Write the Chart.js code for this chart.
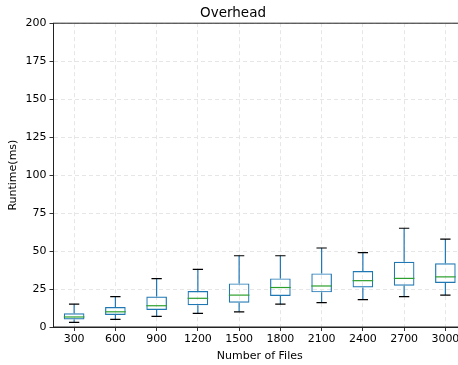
<!DOCTYPE html>
<html>
<head>
<meta charset="utf-8">
<script src="https://cdn.jsdelivr.net/npm/chart.js@4"></script>
<style>
html,body{margin:0;padding:0;background:#fff;overflow:hidden;width:458px;height:365px;}
#wrap{position:absolute;left:0;top:0;width:468px;height:365px;}
</style>
</head>
<body>
<div id="wrap"><canvas id="c"></canvas></div>
<script>
const categories = ['300','600','900','1200','1500','1800','2100','2400','2700','3000'];
const whiskerLow  = [3, 5, 7, 9, 10, 15, 16, 18, 20, 21];
const q1          = [5, 7.9, 11.2, 14.3, 16, 20.4, 22.8, 26, 27.2, 29];
const median      = [6.6, 10, 14, 18.9, 21, 26, 27, 30.5, 32, 33];
const q3          = [9, 13.2, 20, 23.7, 28.7, 32, 35.3, 36.8, 43, 41.9];
const whiskerHigh = [15, 20, 31.8, 38, 46.9, 46.9, 52, 48.9, 65, 57.9];
const yTicks = [0, 25, 50, 75, 100, 125, 150, 175, 200];

const BLUE = '#1f77b4', GREEN = '#2ca02c';
const FONT = "'DejaVu Sans', sans-serif";

const boxPlugin = {
  id: 'boxExtras',
  afterDatasetsDraw(chart) {
    const {ctx, chartArea, scales: {x, y}} = chart;
    const meta = chart.getDatasetMeta(0);
    ctx.save();
    ctx.lineWidth = 1.2;
    meta.data.forEach((bar, i) => {
      const cx = x.getPixelForValue(i);
      const half = bar.width / 2;
      const capHalf = half / 2;
      const yLo = y.getPixelForValue(whiskerLow[i]);
      const yQ1 = y.getPixelForValue(q1[i]);
      const yQ3 = y.getPixelForValue(q3[i]);
      const yHi = y.getPixelForValue(whiskerHigh[i]);
      const yMed = y.getPixelForValue(median[i]);
      ctx.strokeStyle = BLUE;
      ctx.beginPath();
      ctx.moveTo(cx, yQ1); ctx.lineTo(cx, yLo);
      ctx.moveTo(cx, yQ3); ctx.lineTo(cx, yHi);
      ctx.stroke();
      ctx.strokeStyle = '#000';
      ctx.beginPath();
      ctx.moveTo(cx - capHalf, yLo); ctx.lineTo(cx + capHalf, yLo);
      ctx.moveTo(cx - capHalf, yHi); ctx.lineTo(cx + capHalf, yHi);
      ctx.stroke();
      ctx.strokeStyle = GREEN;
      ctx.beginPath();
      ctx.moveTo(cx - half, yMed); ctx.lineTo(cx + half, yMed);
      ctx.stroke();
    });
    ctx.strokeStyle = '#222';
    ctx.lineWidth = 1;
    ctx.strokeRect(chartArea.left, chartArea.top, chartArea.right - chartArea.left, chartArea.bottom - chartArea.top);
    ctx.restore();
  }
};

new Chart(document.getElementById('c'), {
  type: 'bar',
  data: {
    labels: categories,
    datasets: [{
      data: q1.map((v, i) => [v, q3[i]]),
      backgroundColor: 'rgba(0,0,0,0)',
      borderColor: BLUE,
      borderWidth: 1.2,
      borderSkipped: false,
      barPercentage: 0.5,
      categoryPercentage: 1.0
    }]
  },
  options: {
    responsive: true,
    maintainAspectRatio: false,
    devicePixelRatio: 1,
    animation: false,
    layout: {padding: {left: 0, right: 2, top: 0, bottom: 0}},
    plugins: {
      legend: {display: false},
      tooltip: {enabled: false},
      title: {
        display: true, text: 'Overhead', color: '#000',
        font: {family: FONT, size: 13.5, weight: 'normal'},
        padding: {top: 5, bottom: 2}
      }
    },
    scales: {
      x: {
        offset: true,
        grid: {offset: false, color: '#e6e6e6', tickColor: '#333', tickLength: 4, drawTicks: true},
        border: {display: true, color: '#222', dash: [4, 3]},
        ticks: {color: '#000', font: {family: FONT, size: 11}, padding: 2, maxRotation: 0, autoSkip: false},
        title: {display: true, text: 'Number of Files', color: '#000', font: {family: FONT, size: 11}, padding: {top: 0, bottom: 2}},
        afterFit(s) { s.height = 38; }
      },
      y: {
        min: 0, max: 200,
        afterBuildTicks(s) { s.ticks = yTicks.map(v => ({value: v})); },
        grid: {color: '#e6e6e6', tickColor: '#333', tickLength: 4},
        border: {display: true, color: '#222', dash: [4, 3]},
        ticks: {color: '#000', font: {family: FONT, size: 11}, padding: 3},
        title: {display: true, text: 'Runtime(ms)', color: '#000', font: {family: FONT, size: 11}, padding: {top: 7, bottom: 2}},
        afterFit(s) { s.width = 53.5; }
      }
    }
  },
  plugins: [boxPlugin]
});
</script>
</body>
</html>
